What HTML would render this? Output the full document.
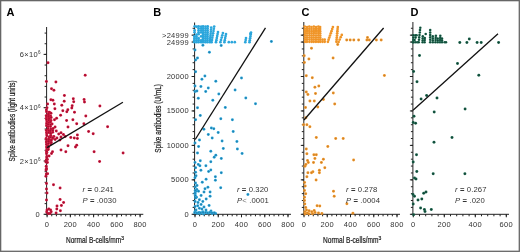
<!DOCTYPE html>
<html><head><meta charset="utf-8"><style>
html,body{margin:0;padding:0;background:#fff;}
svg{display:block;will-change:transform;}
text{font-family:"Liberation Sans",sans-serif;}
</style></head><body>
<svg width="520" height="252" viewBox="0 0 520 252">
<defs>
<radialGradient id="gA"><stop offset="0" stop-color="#9a0c2e"/><stop offset="0.55" stop-color="#b81236"/><stop offset="1" stop-color="#d21c40"/></radialGradient>
<radialGradient id="gB"><stop offset="0" stop-color="#1d78a2"/><stop offset="0.55" stop-color="#2592c4"/><stop offset="1" stop-color="#32acdf"/></radialGradient>
<radialGradient id="gC"><stop offset="0" stop-color="#c07e30"/><stop offset="0.55" stop-color="#e38d28"/><stop offset="1" stop-color="#f59c2c"/></radialGradient>
<radialGradient id="gD"><stop offset="0" stop-color="#0f3f31"/><stop offset="0.55" stop-color="#155340"/><stop offset="1" stop-color="#1e6a50"/></radialGradient>
</defs>
<rect x="0" y="0" width="520" height="252" fill="#fff"/>
<g stroke="#222" stroke-width="1" fill="none">
<line x1="46.6" y1="27" x2="46.6" y2="214.3"/>
<line x1="46.6" y1="214.3" x2="143.3" y2="214.3"/>
<line x1="44.6" y1="214.30" x2="46.6" y2="214.30"/>
<line x1="44.6" y1="203.64" x2="46.6" y2="203.64"/>
<line x1="44.6" y1="192.98" x2="46.6" y2="192.98"/>
<line x1="44.6" y1="182.32" x2="46.6" y2="182.32"/>
<line x1="44.6" y1="171.66" x2="46.6" y2="171.66"/>
<line x1="44.6" y1="161.00" x2="46.6" y2="161.00"/>
<line x1="44.6" y1="150.34" x2="46.6" y2="150.34"/>
<line x1="44.6" y1="139.68" x2="46.6" y2="139.68"/>
<line x1="44.6" y1="129.02" x2="46.6" y2="129.02"/>
<line x1="44.6" y1="118.36" x2="46.6" y2="118.36"/>
<line x1="44.6" y1="107.70" x2="46.6" y2="107.70"/>
<line x1="44.6" y1="97.04" x2="46.6" y2="97.04"/>
<line x1="44.6" y1="86.38" x2="46.6" y2="86.38"/>
<line x1="44.6" y1="75.72" x2="46.6" y2="75.72"/>
<line x1="44.6" y1="65.06" x2="46.6" y2="65.06"/>
<line x1="44.6" y1="54.40" x2="46.6" y2="54.40"/>
<line x1="44.6" y1="43.74" x2="46.6" y2="43.74"/>
<line x1="44.6" y1="33.08" x2="46.6" y2="33.08"/>
<line x1="43.6" y1="214.30" x2="46.6" y2="214.30"/>
<line x1="43.6" y1="161.00" x2="46.6" y2="161.00"/>
<line x1="43.6" y1="107.70" x2="46.6" y2="107.70"/>
<line x1="43.6" y1="54.40" x2="46.6" y2="54.40"/>
<line x1="47.10" y1="214.3" x2="47.10" y2="216.3"/>
<line x1="51.75" y1="214.3" x2="51.75" y2="216.3"/>
<line x1="56.40" y1="214.3" x2="56.40" y2="216.3"/>
<line x1="61.05" y1="214.3" x2="61.05" y2="216.3"/>
<line x1="65.70" y1="214.3" x2="65.70" y2="216.3"/>
<line x1="70.35" y1="214.3" x2="70.35" y2="216.3"/>
<line x1="75.00" y1="214.3" x2="75.00" y2="216.3"/>
<line x1="79.65" y1="214.3" x2="79.65" y2="216.3"/>
<line x1="84.30" y1="214.3" x2="84.30" y2="216.3"/>
<line x1="88.95" y1="214.3" x2="88.95" y2="216.3"/>
<line x1="93.60" y1="214.3" x2="93.60" y2="216.3"/>
<line x1="98.25" y1="214.3" x2="98.25" y2="216.3"/>
<line x1="102.90" y1="214.3" x2="102.90" y2="216.3"/>
<line x1="107.55" y1="214.3" x2="107.55" y2="216.3"/>
<line x1="112.20" y1="214.3" x2="112.20" y2="216.3"/>
<line x1="116.85" y1="214.3" x2="116.85" y2="216.3"/>
<line x1="121.50" y1="214.3" x2="121.50" y2="216.3"/>
<line x1="126.15" y1="214.3" x2="126.15" y2="216.3"/>
<line x1="130.80" y1="214.3" x2="130.80" y2="216.3"/>
<line x1="135.45" y1="214.3" x2="135.45" y2="216.3"/>
<line x1="140.10" y1="214.3" x2="140.10" y2="216.3"/>
<line x1="47.10" y1="214.3" x2="47.10" y2="217.3"/>
<line x1="70.35" y1="214.3" x2="70.35" y2="217.3"/>
<line x1="93.60" y1="214.3" x2="93.60" y2="217.3"/>
<line x1="116.85" y1="214.3" x2="116.85" y2="217.3"/>
<line x1="140.10" y1="214.3" x2="140.10" y2="217.3"/>
<line x1="194.6" y1="22.5" x2="194.6" y2="214.3"/>
<line x1="194.6" y1="214.3" x2="291" y2="214.3"/>
<line x1="192.6" y1="214.30" x2="194.6" y2="214.30"/>
<line x1="192.6" y1="207.41" x2="194.6" y2="207.41"/>
<line x1="192.6" y1="200.52" x2="194.6" y2="200.52"/>
<line x1="192.6" y1="193.63" x2="194.6" y2="193.63"/>
<line x1="192.6" y1="186.74" x2="194.6" y2="186.74"/>
<line x1="192.6" y1="179.85" x2="194.6" y2="179.85"/>
<line x1="192.6" y1="172.96" x2="194.6" y2="172.96"/>
<line x1="192.6" y1="166.07" x2="194.6" y2="166.07"/>
<line x1="192.6" y1="159.18" x2="194.6" y2="159.18"/>
<line x1="192.6" y1="152.29" x2="194.6" y2="152.29"/>
<line x1="192.6" y1="145.40" x2="194.6" y2="145.40"/>
<line x1="192.6" y1="138.51" x2="194.6" y2="138.51"/>
<line x1="192.6" y1="131.62" x2="194.6" y2="131.62"/>
<line x1="192.6" y1="124.73" x2="194.6" y2="124.73"/>
<line x1="192.6" y1="117.84" x2="194.6" y2="117.84"/>
<line x1="192.6" y1="110.95" x2="194.6" y2="110.95"/>
<line x1="192.6" y1="104.06" x2="194.6" y2="104.06"/>
<line x1="192.6" y1="97.17" x2="194.6" y2="97.17"/>
<line x1="192.6" y1="90.28" x2="194.6" y2="90.28"/>
<line x1="192.6" y1="83.39" x2="194.6" y2="83.39"/>
<line x1="192.6" y1="76.50" x2="194.6" y2="76.50"/>
<line x1="192.6" y1="69.61" x2="194.6" y2="69.61"/>
<line x1="192.6" y1="62.72" x2="194.6" y2="62.72"/>
<line x1="192.6" y1="55.83" x2="194.6" y2="55.83"/>
<line x1="192.6" y1="48.94" x2="194.6" y2="48.94"/>
<line x1="192.6" y1="42.05" x2="194.6" y2="42.05"/>
<line x1="192.6" y1="35.16" x2="194.6" y2="35.16"/>
<line x1="192.6" y1="28.27" x2="194.6" y2="28.27"/>
<line x1="191.6" y1="214.30" x2="194.6" y2="214.30"/>
<line x1="191.6" y1="179.85" x2="194.6" y2="179.85"/>
<line x1="191.6" y1="145.40" x2="194.6" y2="145.40"/>
<line x1="191.6" y1="110.95" x2="194.6" y2="110.95"/>
<line x1="191.6" y1="76.50" x2="194.6" y2="76.50"/>
<line x1="191.6" y1="42.05" x2="194.6" y2="42.05"/>
<line x1="191.6" y1="35.16" x2="194.6" y2="35.16"/>
<line x1="195.00" y1="214.3" x2="195.00" y2="216.3"/>
<line x1="199.65" y1="214.3" x2="199.65" y2="216.3"/>
<line x1="204.30" y1="214.3" x2="204.30" y2="216.3"/>
<line x1="208.95" y1="214.3" x2="208.95" y2="216.3"/>
<line x1="213.60" y1="214.3" x2="213.60" y2="216.3"/>
<line x1="218.25" y1="214.3" x2="218.25" y2="216.3"/>
<line x1="222.90" y1="214.3" x2="222.90" y2="216.3"/>
<line x1="227.55" y1="214.3" x2="227.55" y2="216.3"/>
<line x1="232.20" y1="214.3" x2="232.20" y2="216.3"/>
<line x1="236.85" y1="214.3" x2="236.85" y2="216.3"/>
<line x1="241.50" y1="214.3" x2="241.50" y2="216.3"/>
<line x1="246.15" y1="214.3" x2="246.15" y2="216.3"/>
<line x1="250.80" y1="214.3" x2="250.80" y2="216.3"/>
<line x1="255.45" y1="214.3" x2="255.45" y2="216.3"/>
<line x1="260.10" y1="214.3" x2="260.10" y2="216.3"/>
<line x1="264.75" y1="214.3" x2="264.75" y2="216.3"/>
<line x1="269.40" y1="214.3" x2="269.40" y2="216.3"/>
<line x1="274.05" y1="214.3" x2="274.05" y2="216.3"/>
<line x1="278.70" y1="214.3" x2="278.70" y2="216.3"/>
<line x1="283.35" y1="214.3" x2="283.35" y2="216.3"/>
<line x1="288.00" y1="214.3" x2="288.00" y2="216.3"/>
<line x1="195.00" y1="214.3" x2="195.00" y2="217.3"/>
<line x1="218.25" y1="214.3" x2="218.25" y2="217.3"/>
<line x1="241.50" y1="214.3" x2="241.50" y2="217.3"/>
<line x1="264.75" y1="214.3" x2="264.75" y2="217.3"/>
<line x1="288.00" y1="214.3" x2="288.00" y2="217.3"/>
<line x1="303.8" y1="22" x2="303.8" y2="214.3"/>
<line x1="303.8" y1="214.3" x2="400" y2="214.3"/>
<line x1="301.8" y1="214.30" x2="303.8" y2="214.30"/>
<line x1="301.8" y1="207.41" x2="303.8" y2="207.41"/>
<line x1="301.8" y1="200.52" x2="303.8" y2="200.52"/>
<line x1="301.8" y1="193.63" x2="303.8" y2="193.63"/>
<line x1="301.8" y1="186.74" x2="303.8" y2="186.74"/>
<line x1="301.8" y1="179.85" x2="303.8" y2="179.85"/>
<line x1="301.8" y1="172.96" x2="303.8" y2="172.96"/>
<line x1="301.8" y1="166.07" x2="303.8" y2="166.07"/>
<line x1="301.8" y1="159.18" x2="303.8" y2="159.18"/>
<line x1="301.8" y1="152.29" x2="303.8" y2="152.29"/>
<line x1="301.8" y1="145.40" x2="303.8" y2="145.40"/>
<line x1="301.8" y1="138.51" x2="303.8" y2="138.51"/>
<line x1="301.8" y1="131.62" x2="303.8" y2="131.62"/>
<line x1="301.8" y1="124.73" x2="303.8" y2="124.73"/>
<line x1="301.8" y1="117.84" x2="303.8" y2="117.84"/>
<line x1="301.8" y1="110.95" x2="303.8" y2="110.95"/>
<line x1="301.8" y1="104.06" x2="303.8" y2="104.06"/>
<line x1="301.8" y1="97.17" x2="303.8" y2="97.17"/>
<line x1="301.8" y1="90.28" x2="303.8" y2="90.28"/>
<line x1="301.8" y1="83.39" x2="303.8" y2="83.39"/>
<line x1="301.8" y1="76.50" x2="303.8" y2="76.50"/>
<line x1="301.8" y1="69.61" x2="303.8" y2="69.61"/>
<line x1="301.8" y1="62.72" x2="303.8" y2="62.72"/>
<line x1="301.8" y1="55.83" x2="303.8" y2="55.83"/>
<line x1="301.8" y1="48.94" x2="303.8" y2="48.94"/>
<line x1="301.8" y1="42.05" x2="303.8" y2="42.05"/>
<line x1="301.8" y1="35.16" x2="303.8" y2="35.16"/>
<line x1="301.8" y1="28.27" x2="303.8" y2="28.27"/>
<line x1="300.8" y1="214.30" x2="303.8" y2="214.30"/>
<line x1="300.8" y1="179.85" x2="303.8" y2="179.85"/>
<line x1="300.8" y1="145.40" x2="303.8" y2="145.40"/>
<line x1="300.8" y1="110.95" x2="303.8" y2="110.95"/>
<line x1="300.8" y1="76.50" x2="303.8" y2="76.50"/>
<line x1="300.8" y1="42.05" x2="303.8" y2="42.05"/>
<line x1="300.8" y1="35.16" x2="303.8" y2="35.16"/>
<line x1="304.00" y1="214.3" x2="304.00" y2="216.3"/>
<line x1="308.65" y1="214.3" x2="308.65" y2="216.3"/>
<line x1="313.30" y1="214.3" x2="313.30" y2="216.3"/>
<line x1="317.95" y1="214.3" x2="317.95" y2="216.3"/>
<line x1="322.60" y1="214.3" x2="322.60" y2="216.3"/>
<line x1="327.25" y1="214.3" x2="327.25" y2="216.3"/>
<line x1="331.90" y1="214.3" x2="331.90" y2="216.3"/>
<line x1="336.55" y1="214.3" x2="336.55" y2="216.3"/>
<line x1="341.20" y1="214.3" x2="341.20" y2="216.3"/>
<line x1="345.85" y1="214.3" x2="345.85" y2="216.3"/>
<line x1="350.50" y1="214.3" x2="350.50" y2="216.3"/>
<line x1="355.15" y1="214.3" x2="355.15" y2="216.3"/>
<line x1="359.80" y1="214.3" x2="359.80" y2="216.3"/>
<line x1="364.45" y1="214.3" x2="364.45" y2="216.3"/>
<line x1="369.10" y1="214.3" x2="369.10" y2="216.3"/>
<line x1="373.75" y1="214.3" x2="373.75" y2="216.3"/>
<line x1="378.40" y1="214.3" x2="378.40" y2="216.3"/>
<line x1="383.05" y1="214.3" x2="383.05" y2="216.3"/>
<line x1="387.70" y1="214.3" x2="387.70" y2="216.3"/>
<line x1="392.35" y1="214.3" x2="392.35" y2="216.3"/>
<line x1="397.00" y1="214.3" x2="397.00" y2="216.3"/>
<line x1="304.00" y1="214.3" x2="304.00" y2="217.3"/>
<line x1="327.25" y1="214.3" x2="327.25" y2="217.3"/>
<line x1="350.50" y1="214.3" x2="350.50" y2="217.3"/>
<line x1="373.75" y1="214.3" x2="373.75" y2="217.3"/>
<line x1="397.00" y1="214.3" x2="397.00" y2="217.3"/>
<line x1="412.9" y1="22" x2="412.9" y2="214.3"/>
<line x1="412.9" y1="214.3" x2="509" y2="214.3"/>
<line x1="410.9" y1="214.30" x2="412.9" y2="214.30"/>
<line x1="410.9" y1="207.41" x2="412.9" y2="207.41"/>
<line x1="410.9" y1="200.52" x2="412.9" y2="200.52"/>
<line x1="410.9" y1="193.63" x2="412.9" y2="193.63"/>
<line x1="410.9" y1="186.74" x2="412.9" y2="186.74"/>
<line x1="410.9" y1="179.85" x2="412.9" y2="179.85"/>
<line x1="410.9" y1="172.96" x2="412.9" y2="172.96"/>
<line x1="410.9" y1="166.07" x2="412.9" y2="166.07"/>
<line x1="410.9" y1="159.18" x2="412.9" y2="159.18"/>
<line x1="410.9" y1="152.29" x2="412.9" y2="152.29"/>
<line x1="410.9" y1="145.40" x2="412.9" y2="145.40"/>
<line x1="410.9" y1="138.51" x2="412.9" y2="138.51"/>
<line x1="410.9" y1="131.62" x2="412.9" y2="131.62"/>
<line x1="410.9" y1="124.73" x2="412.9" y2="124.73"/>
<line x1="410.9" y1="117.84" x2="412.9" y2="117.84"/>
<line x1="410.9" y1="110.95" x2="412.9" y2="110.95"/>
<line x1="410.9" y1="104.06" x2="412.9" y2="104.06"/>
<line x1="410.9" y1="97.17" x2="412.9" y2="97.17"/>
<line x1="410.9" y1="90.28" x2="412.9" y2="90.28"/>
<line x1="410.9" y1="83.39" x2="412.9" y2="83.39"/>
<line x1="410.9" y1="76.50" x2="412.9" y2="76.50"/>
<line x1="410.9" y1="69.61" x2="412.9" y2="69.61"/>
<line x1="410.9" y1="62.72" x2="412.9" y2="62.72"/>
<line x1="410.9" y1="55.83" x2="412.9" y2="55.83"/>
<line x1="410.9" y1="48.94" x2="412.9" y2="48.94"/>
<line x1="410.9" y1="42.05" x2="412.9" y2="42.05"/>
<line x1="410.9" y1="35.16" x2="412.9" y2="35.16"/>
<line x1="410.9" y1="28.27" x2="412.9" y2="28.27"/>
<line x1="409.9" y1="214.30" x2="412.9" y2="214.30"/>
<line x1="409.9" y1="179.85" x2="412.9" y2="179.85"/>
<line x1="409.9" y1="145.40" x2="412.9" y2="145.40"/>
<line x1="409.9" y1="110.95" x2="412.9" y2="110.95"/>
<line x1="409.9" y1="76.50" x2="412.9" y2="76.50"/>
<line x1="409.9" y1="42.05" x2="412.9" y2="42.05"/>
<line x1="409.9" y1="35.16" x2="412.9" y2="35.16"/>
<line x1="413.30" y1="214.3" x2="413.30" y2="216.3"/>
<line x1="419.50" y1="214.3" x2="419.50" y2="216.3"/>
<line x1="425.70" y1="214.3" x2="425.70" y2="216.3"/>
<line x1="431.90" y1="214.3" x2="431.90" y2="216.3"/>
<line x1="438.10" y1="214.3" x2="438.10" y2="216.3"/>
<line x1="444.30" y1="214.3" x2="444.30" y2="216.3"/>
<line x1="450.50" y1="214.3" x2="450.50" y2="216.3"/>
<line x1="456.70" y1="214.3" x2="456.70" y2="216.3"/>
<line x1="462.90" y1="214.3" x2="462.90" y2="216.3"/>
<line x1="469.10" y1="214.3" x2="469.10" y2="216.3"/>
<line x1="475.30" y1="214.3" x2="475.30" y2="216.3"/>
<line x1="481.50" y1="214.3" x2="481.50" y2="216.3"/>
<line x1="487.70" y1="214.3" x2="487.70" y2="216.3"/>
<line x1="493.90" y1="214.3" x2="493.90" y2="216.3"/>
<line x1="500.10" y1="214.3" x2="500.10" y2="216.3"/>
<line x1="506.30" y1="214.3" x2="506.30" y2="216.3"/>
<line x1="413.30" y1="214.3" x2="413.30" y2="217.3"/>
<line x1="444.30" y1="214.3" x2="444.30" y2="217.3"/>
<line x1="475.30" y1="214.3" x2="475.30" y2="217.3"/>
<line x1="506.30" y1="214.3" x2="506.30" y2="217.3"/>
</g>
<g>
<circle cx="48.0" cy="62.7" r="1.48" fill="url(#gA)"/>
<circle cx="85.2" cy="75.2" r="1.48" fill="url(#gA)"/>
<circle cx="46.4" cy="81.5" r="1.48" fill="url(#gA)"/>
<circle cx="55.9" cy="81.9" r="1.48" fill="url(#gA)"/>
<circle cx="51.5" cy="88.8" r="1.48" fill="url(#gA)"/>
<circle cx="53.9" cy="90.2" r="1.48" fill="url(#gA)"/>
<circle cx="64.4" cy="95.4" r="1.48" fill="url(#gA)"/>
<circle cx="50.9" cy="99.8" r="1.48" fill="url(#gA)"/>
<circle cx="52.9" cy="100.2" r="1.48" fill="url(#gA)"/>
<circle cx="64.2" cy="101.2" r="1.48" fill="url(#gA)"/>
<circle cx="73.3" cy="98.8" r="1.48" fill="url(#gA)"/>
<circle cx="73.7" cy="101.7" r="1.48" fill="url(#gA)"/>
<circle cx="84.1" cy="99.6" r="1.48" fill="url(#gA)"/>
<circle cx="84.5" cy="102.1" r="1.48" fill="url(#gA)"/>
<circle cx="47.6" cy="104.1" r="1.48" fill="url(#gA)"/>
<circle cx="54.3" cy="104.1" r="1.48" fill="url(#gA)"/>
<circle cx="61.8" cy="105.3" r="1.48" fill="url(#gA)"/>
<circle cx="72.2" cy="105.7" r="1.48" fill="url(#gA)"/>
<circle cx="71.8" cy="107.9" r="1.48" fill="url(#gA)"/>
<circle cx="47.0" cy="107.7" r="1.48" fill="url(#gA)"/>
<circle cx="54.9" cy="108.7" r="1.48" fill="url(#gA)"/>
<circle cx="62.8" cy="110.7" r="1.48" fill="url(#gA)"/>
<circle cx="66.8" cy="111.7" r="1.48" fill="url(#gA)"/>
<circle cx="67.8" cy="109.7" r="1.48" fill="url(#gA)"/>
<circle cx="49.9" cy="112.7" r="1.48" fill="url(#gA)"/>
<circle cx="74.5" cy="112.3" r="1.48" fill="url(#gA)"/>
<circle cx="48.0" cy="114.6" r="1.48" fill="url(#gA)"/>
<circle cx="60.6" cy="115.2" r="1.48" fill="url(#gA)"/>
<circle cx="47.0" cy="116.6" r="1.48" fill="url(#gA)"/>
<circle cx="49.9" cy="117.2" r="1.48" fill="url(#gA)"/>
<circle cx="85.8" cy="116.0" r="1.48" fill="url(#gA)"/>
<circle cx="56.6" cy="118.2" r="1.48" fill="url(#gA)"/>
<circle cx="49.0" cy="119.2" r="1.48" fill="url(#gA)"/>
<circle cx="99.9" cy="105.9" r="1.48" fill="url(#gA)"/>
<circle cx="107.6" cy="126.7" r="1.48" fill="url(#gA)"/>
<circle cx="93.2" cy="133.8" r="1.48" fill="url(#gA)"/>
<circle cx="66.6" cy="120.6" r="1.48" fill="url(#gA)"/>
<circle cx="54.5" cy="119.7" r="1.48" fill="url(#gA)"/>
<circle cx="55.1" cy="126.9" r="1.48" fill="url(#gA)"/>
<circle cx="68.0" cy="127.0" r="1.48" fill="url(#gA)"/>
<circle cx="52.1" cy="123.9" r="1.48" fill="url(#gA)"/>
<circle cx="56.3" cy="131.0" r="1.48" fill="url(#gA)"/>
<circle cx="52.7" cy="132.2" r="1.48" fill="url(#gA)"/>
<circle cx="58.7" cy="134.0" r="1.48" fill="url(#gA)"/>
<circle cx="61.0" cy="132.8" r="1.48" fill="url(#gA)"/>
<circle cx="63.4" cy="134.6" r="1.48" fill="url(#gA)"/>
<circle cx="50.9" cy="135.8" r="1.48" fill="url(#gA)"/>
<circle cx="53.9" cy="136.4" r="1.48" fill="url(#gA)"/>
<circle cx="56.9" cy="138.1" r="1.48" fill="url(#gA)"/>
<circle cx="61.0" cy="137.0" r="1.48" fill="url(#gA)"/>
<circle cx="65.2" cy="136.4" r="1.48" fill="url(#gA)"/>
<circle cx="49.1" cy="139.4" r="1.48" fill="url(#gA)"/>
<circle cx="55.1" cy="139.4" r="1.48" fill="url(#gA)"/>
<circle cx="59.9" cy="140.0" r="1.48" fill="url(#gA)"/>
<circle cx="52.7" cy="138.6" r="1.48" fill="url(#gA)"/>
<circle cx="50.9" cy="144.0" r="1.48" fill="url(#gA)"/>
<circle cx="49.7" cy="141.6" r="1.48" fill="url(#gA)"/>
<circle cx="68.0" cy="145.7" r="1.48" fill="url(#gA)"/>
<circle cx="61.0" cy="149.9" r="1.48" fill="url(#gA)"/>
<circle cx="65.8" cy="151.7" r="1.48" fill="url(#gA)"/>
<circle cx="52.5" cy="151.7" r="1.48" fill="url(#gA)"/>
<circle cx="51.5" cy="153.5" r="1.48" fill="url(#gA)"/>
<circle cx="49.1" cy="155.9" r="1.48" fill="url(#gA)"/>
<circle cx="47.4" cy="159.4" r="1.48" fill="url(#gA)"/>
<circle cx="47.4" cy="162.4" r="1.48" fill="url(#gA)"/>
<circle cx="46.8" cy="149.9" r="1.48" fill="url(#gA)"/>
<circle cx="46.8" cy="152.3" r="1.48" fill="url(#gA)"/>
<circle cx="46.5" cy="168.9" r="1.48" fill="url(#gA)"/>
<circle cx="47.6" cy="173.7" r="1.48" fill="url(#gA)"/>
<circle cx="46.5" cy="183.6" r="1.48" fill="url(#gA)"/>
<circle cx="53.5" cy="184.7" r="1.48" fill="url(#gA)"/>
<circle cx="60.1" cy="187.9" r="1.48" fill="url(#gA)"/>
<circle cx="46.5" cy="189.0" r="1.48" fill="url(#gA)"/>
<circle cx="47.0" cy="193.0" r="1.48" fill="url(#gA)"/>
<circle cx="46.5" cy="199.9" r="1.48" fill="url(#gA)"/>
<circle cx="60.1" cy="199.5" r="1.48" fill="url(#gA)"/>
<circle cx="63.6" cy="202.6" r="1.48" fill="url(#gA)"/>
<circle cx="61.4" cy="205.4" r="1.48" fill="url(#gA)"/>
<circle cx="57.0" cy="206.0" r="1.48" fill="url(#gA)"/>
<circle cx="56.8" cy="208.9" r="1.48" fill="url(#gA)"/>
<circle cx="60.4" cy="210.7" r="1.48" fill="url(#gA)"/>
<circle cx="56.1" cy="212.9" r="1.48" fill="url(#gA)"/>
<circle cx="72.9" cy="119.7" r="1.48" fill="url(#gA)"/>
<circle cx="76.7" cy="123.8" r="1.48" fill="url(#gA)"/>
<circle cx="83.9" cy="123.8" r="1.48" fill="url(#gA)"/>
<circle cx="88.6" cy="131.4" r="1.48" fill="url(#gA)"/>
<circle cx="77.4" cy="135.0" r="1.48" fill="url(#gA)"/>
<circle cx="70.8" cy="137.4" r="1.48" fill="url(#gA)"/>
<circle cx="74.3" cy="138.1" r="1.48" fill="url(#gA)"/>
<circle cx="77.4" cy="138.6" r="1.48" fill="url(#gA)"/>
<circle cx="76.7" cy="145.2" r="1.48" fill="url(#gA)"/>
<circle cx="75.5" cy="146.9" r="1.48" fill="url(#gA)"/>
<circle cx="94.1" cy="151.7" r="1.48" fill="url(#gA)"/>
<circle cx="123.1" cy="152.9" r="1.48" fill="url(#gA)"/>
<circle cx="99.6" cy="161.6" r="1.48" fill="url(#gA)"/>
<circle cx="51.2" cy="211.8" r="1.48" fill="url(#gA)"/>
<circle cx="50.0" cy="213.4" r="1.48" fill="url(#gA)"/>
<circle cx="48.0" cy="213.5" r="1.48" fill="url(#gA)"/>
<circle cx="46.7" cy="212.0" r="1.48" fill="url(#gA)"/>
<circle cx="47.0" cy="210.1" r="1.48" fill="url(#gA)"/>
<circle cx="48.8" cy="209.1" r="1.48" fill="url(#gA)"/>
<circle cx="50.6" cy="209.9" r="1.48" fill="url(#gA)"/>
<circle cx="46.4" cy="109.9" r="1.48" fill="url(#gA)"/>
<circle cx="46.5" cy="111.7" r="1.48" fill="url(#gA)"/>
<circle cx="46.2" cy="115.8" r="1.48" fill="url(#gA)"/>
<circle cx="46.4" cy="118.3" r="1.48" fill="url(#gA)"/>
<circle cx="46.5" cy="119.7" r="1.48" fill="url(#gA)"/>
<circle cx="46.8" cy="122.0" r="1.48" fill="url(#gA)"/>
<circle cx="46.6" cy="123.7" r="1.48" fill="url(#gA)"/>
<circle cx="46.5" cy="125.8" r="1.48" fill="url(#gA)"/>
<circle cx="46.4" cy="130.2" r="1.48" fill="url(#gA)"/>
<circle cx="46.6" cy="132.3" r="1.48" fill="url(#gA)"/>
<circle cx="46.7" cy="134.0" r="1.48" fill="url(#gA)"/>
<circle cx="46.8" cy="135.7" r="1.48" fill="url(#gA)"/>
<circle cx="46.1" cy="138.4" r="1.48" fill="url(#gA)"/>
<circle cx="46.5" cy="139.8" r="1.48" fill="url(#gA)"/>
<circle cx="46.3" cy="141.9" r="1.48" fill="url(#gA)"/>
<circle cx="46.5" cy="144.3" r="1.48" fill="url(#gA)"/>
<circle cx="46.8" cy="146.3" r="1.48" fill="url(#gA)"/>
<circle cx="46.6" cy="147.7" r="1.48" fill="url(#gA)"/>
<circle cx="46.9" cy="150.3" r="1.48" fill="url(#gA)"/>
<circle cx="46.6" cy="151.8" r="1.48" fill="url(#gA)"/>
<circle cx="46.5" cy="153.8" r="1.48" fill="url(#gA)"/>
<circle cx="46.8" cy="156.4" r="1.48" fill="url(#gA)"/>
<circle cx="46.7" cy="157.9" r="1.48" fill="url(#gA)"/>
<circle cx="46.2" cy="160.2" r="1.48" fill="url(#gA)"/>
<circle cx="45.9" cy="162.1" r="1.48" fill="url(#gA)"/>
<circle cx="46.2" cy="166.3" r="1.48" fill="url(#gA)"/>
<circle cx="46.4" cy="168.4" r="1.48" fill="url(#gA)"/>
<circle cx="46.0" cy="170.1" r="1.48" fill="url(#gA)"/>
<circle cx="46.3" cy="174.1" r="1.48" fill="url(#gA)"/>
<circle cx="45.9" cy="176.3" r="1.48" fill="url(#gA)"/>
<circle cx="49.1" cy="112.3" r="1.48" fill="url(#gA)"/>
<circle cx="48.6" cy="114.1" r="1.48" fill="url(#gA)"/>
<circle cx="48.7" cy="116.2" r="1.48" fill="url(#gA)"/>
<circle cx="49.0" cy="118.3" r="1.48" fill="url(#gA)"/>
<circle cx="48.8" cy="120.2" r="1.48" fill="url(#gA)"/>
<circle cx="49.1" cy="122.5" r="1.48" fill="url(#gA)"/>
<circle cx="48.1" cy="124.5" r="1.48" fill="url(#gA)"/>
<circle cx="48.1" cy="126.8" r="1.48" fill="url(#gA)"/>
<circle cx="48.2" cy="128.9" r="1.48" fill="url(#gA)"/>
<circle cx="48.8" cy="130.8" r="1.48" fill="url(#gA)"/>
<circle cx="48.8" cy="132.6" r="1.48" fill="url(#gA)"/>
<circle cx="49.1" cy="137.0" r="1.48" fill="url(#gA)"/>
<circle cx="48.7" cy="139.2" r="1.48" fill="url(#gA)"/>
<circle cx="48.4" cy="141.3" r="1.48" fill="url(#gA)"/>
<circle cx="48.4" cy="143.4" r="1.48" fill="url(#gA)"/>
<circle cx="48.1" cy="145.7" r="1.48" fill="url(#gA)"/>
<circle cx="48.4" cy="147.5" r="1.48" fill="url(#gA)"/>
<circle cx="48.3" cy="149.5" r="1.48" fill="url(#gA)"/>
<circle cx="51.0" cy="113.2" r="1.48" fill="url(#gA)"/>
<circle cx="50.6" cy="116.0" r="1.48" fill="url(#gA)"/>
<circle cx="51.2" cy="117.6" r="1.48" fill="url(#gA)"/>
<circle cx="51.0" cy="120.4" r="1.48" fill="url(#gA)"/>
<circle cx="50.5" cy="122.0" r="1.48" fill="url(#gA)"/>
<circle cx="50.5" cy="124.7" r="1.48" fill="url(#gA)"/>
<circle cx="50.5" cy="126.5" r="1.48" fill="url(#gA)"/>
<circle cx="50.9" cy="129.1" r="1.48" fill="url(#gA)"/>
<circle cx="50.4" cy="130.9" r="1.48" fill="url(#gA)"/>
<circle cx="50.6" cy="133.2" r="1.48" fill="url(#gA)"/>
<circle cx="50.7" cy="135.4" r="1.48" fill="url(#gA)"/>
<circle cx="50.5" cy="137.3" r="1.48" fill="url(#gA)"/>
<circle cx="51.2" cy="140.3" r="1.48" fill="url(#gA)"/>
<circle cx="51.3" cy="142.4" r="1.48" fill="url(#gA)"/>
<circle cx="53.2" cy="128.4" r="1.48" fill="url(#gA)"/>
<circle cx="52.7" cy="130.5" r="1.48" fill="url(#gA)"/>
<circle cx="52.7" cy="137.7" r="1.48" fill="url(#gA)"/>
<circle cx="202.9" cy="45.3" r="1.48" fill="url(#gB)"/>
<circle cx="221.2" cy="45.6" r="1.48" fill="url(#gB)"/>
<circle cx="209.4" cy="52.3" r="1.48" fill="url(#gB)"/>
<circle cx="195.0" cy="50.0" r="1.48" fill="url(#gB)"/>
<circle cx="197.5" cy="57.9" r="1.48" fill="url(#gB)"/>
<circle cx="195.6" cy="59.9" r="1.48" fill="url(#gB)"/>
<circle cx="195.6" cy="71.8" r="1.48" fill="url(#gB)"/>
<circle cx="204.9" cy="76.1" r="1.48" fill="url(#gB)"/>
<circle cx="201.9" cy="79.3" r="1.48" fill="url(#gB)"/>
<circle cx="215.8" cy="81.3" r="1.48" fill="url(#gB)"/>
<circle cx="200.9" cy="86.6" r="1.48" fill="url(#gB)"/>
<circle cx="208.3" cy="88.0" r="1.48" fill="url(#gB)"/>
<circle cx="195.0" cy="86.0" r="1.48" fill="url(#gB)"/>
<circle cx="205.7" cy="91.6" r="1.48" fill="url(#gB)"/>
<circle cx="241.5" cy="77.9" r="1.48" fill="url(#gB)"/>
<circle cx="235.1" cy="89.9" r="1.48" fill="url(#gB)"/>
<circle cx="245.8" cy="97.9" r="1.48" fill="url(#gB)"/>
<circle cx="255.5" cy="103.8" r="1.48" fill="url(#gB)"/>
<circle cx="232.4" cy="119.8" r="1.48" fill="url(#gB)"/>
<circle cx="233.2" cy="131.6" r="1.48" fill="url(#gB)"/>
<circle cx="236.9" cy="141.6" r="1.48" fill="url(#gB)"/>
<circle cx="237.4" cy="149.0" r="1.48" fill="url(#gB)"/>
<circle cx="242.1" cy="153.5" r="1.48" fill="url(#gB)"/>
<circle cx="195.0" cy="91.6" r="1.48" fill="url(#gB)"/>
<circle cx="196.9" cy="91.0" r="1.48" fill="url(#gB)"/>
<circle cx="218.8" cy="94.0" r="1.48" fill="url(#gB)"/>
<circle cx="198.3" cy="98.3" r="1.48" fill="url(#gB)"/>
<circle cx="212.8" cy="100.3" r="1.48" fill="url(#gB)"/>
<circle cx="197.5" cy="107.8" r="1.48" fill="url(#gB)"/>
<circle cx="225.3" cy="107.4" r="1.48" fill="url(#gB)"/>
<circle cx="200.3" cy="115.4" r="1.48" fill="url(#gB)"/>
<circle cx="220.8" cy="118.8" r="1.48" fill="url(#gB)"/>
<circle cx="195.6" cy="119.7" r="1.48" fill="url(#gB)"/>
<circle cx="203.9" cy="129.3" r="1.48" fill="url(#gB)"/>
<circle cx="211.4" cy="128.1" r="1.48" fill="url(#gB)"/>
<circle cx="213.8" cy="128.7" r="1.48" fill="url(#gB)"/>
<circle cx="218.2" cy="132.6" r="1.48" fill="url(#gB)"/>
<circle cx="208.3" cy="134.6" r="1.48" fill="url(#gB)"/>
<circle cx="212.2" cy="138.0" r="1.48" fill="url(#gB)"/>
<circle cx="199.5" cy="140.0" r="1.48" fill="url(#gB)"/>
<circle cx="222.1" cy="141.0" r="1.48" fill="url(#gB)"/>
<circle cx="195.0" cy="142.9" r="1.48" fill="url(#gB)"/>
<circle cx="198.6" cy="146.6" r="1.48" fill="url(#gB)"/>
<circle cx="223.3" cy="148.5" r="1.48" fill="url(#gB)"/>
<circle cx="210.8" cy="151.3" r="1.48" fill="url(#gB)"/>
<circle cx="197.5" cy="152.9" r="1.48" fill="url(#gB)"/>
<circle cx="215.8" cy="155.2" r="1.48" fill="url(#gB)"/>
<circle cx="214.2" cy="157.2" r="1.48" fill="url(#gB)"/>
<circle cx="221.3" cy="158.4" r="1.48" fill="url(#gB)"/>
<circle cx="200.3" cy="160.8" r="1.48" fill="url(#gB)"/>
<circle cx="210.8" cy="161.8" r="1.48" fill="url(#gB)"/>
<circle cx="195.0" cy="162.4" r="1.48" fill="url(#gB)"/>
<circle cx="198.3" cy="164.4" r="1.48" fill="url(#gB)"/>
<circle cx="199.9" cy="165.8" r="1.48" fill="url(#gB)"/>
<circle cx="205.9" cy="165.8" r="1.48" fill="url(#gB)"/>
<circle cx="195.6" cy="167.7" r="1.48" fill="url(#gB)"/>
<circle cx="210.8" cy="169.9" r="1.48" fill="url(#gB)"/>
<circle cx="208.6" cy="171.5" r="1.48" fill="url(#gB)"/>
<circle cx="200.9" cy="170.3" r="1.48" fill="url(#gB)"/>
<circle cx="195.6" cy="172.3" r="1.48" fill="url(#gB)"/>
<circle cx="221.3" cy="172.7" r="1.48" fill="url(#gB)"/>
<circle cx="196.0" cy="175.7" r="1.48" fill="url(#gB)"/>
<circle cx="195.0" cy="177.7" r="1.48" fill="url(#gB)"/>
<circle cx="215.4" cy="176.7" r="1.48" fill="url(#gB)"/>
<circle cx="206.1" cy="179.2" r="1.48" fill="url(#gB)"/>
<circle cx="215.4" cy="180.2" r="1.48" fill="url(#gB)"/>
<circle cx="202.3" cy="182.2" r="1.48" fill="url(#gB)"/>
<circle cx="220.7" cy="187.8" r="1.48" fill="url(#gB)"/>
<circle cx="207.9" cy="187.3" r="1.48" fill="url(#gB)"/>
<circle cx="205.0" cy="188.7" r="1.48" fill="url(#gB)"/>
<circle cx="196.8" cy="189.5" r="1.48" fill="url(#gB)"/>
<circle cx="196.0" cy="191.2" r="1.48" fill="url(#gB)"/>
<circle cx="198.5" cy="191.2" r="1.48" fill="url(#gB)"/>
<circle cx="204.0" cy="192.1" r="1.48" fill="url(#gB)"/>
<circle cx="210.1" cy="192.1" r="1.48" fill="url(#gB)"/>
<circle cx="195.1" cy="193.8" r="1.48" fill="url(#gB)"/>
<circle cx="201.1" cy="195.5" r="1.48" fill="url(#gB)"/>
<circle cx="210.1" cy="196.3" r="1.48" fill="url(#gB)"/>
<circle cx="196.5" cy="197.2" r="1.48" fill="url(#gB)"/>
<circle cx="206.2" cy="198.9" r="1.48" fill="url(#gB)"/>
<circle cx="199.4" cy="199.7" r="1.48" fill="url(#gB)"/>
<circle cx="202.8" cy="201.5" r="1.48" fill="url(#gB)"/>
<circle cx="195.1" cy="201.5" r="1.48" fill="url(#gB)"/>
<circle cx="209.1" cy="205.4" r="1.48" fill="url(#gB)"/>
<circle cx="201.1" cy="204.4" r="1.48" fill="url(#gB)"/>
<circle cx="197.7" cy="205.7" r="1.48" fill="url(#gB)"/>
<circle cx="195.1" cy="206.6" r="1.48" fill="url(#gB)"/>
<circle cx="199.4" cy="208.3" r="1.48" fill="url(#gB)"/>
<circle cx="201.9" cy="209.1" r="1.48" fill="url(#gB)"/>
<circle cx="196.0" cy="210.0" r="1.48" fill="url(#gB)"/>
<circle cx="195.1" cy="211.7" r="1.48" fill="url(#gB)"/>
<circle cx="202.8" cy="211.7" r="1.48" fill="url(#gB)"/>
<circle cx="206.2" cy="212.5" r="1.48" fill="url(#gB)"/>
<circle cx="208.8" cy="212.9" r="1.48" fill="url(#gB)"/>
<circle cx="212.2" cy="213.4" r="1.48" fill="url(#gB)"/>
<circle cx="215.6" cy="213.4" r="1.48" fill="url(#gB)"/>
<circle cx="197.6" cy="213.2" r="1.48" fill="url(#gB)"/>
<circle cx="200.2" cy="213.4" r="1.48" fill="url(#gB)"/>
<circle cx="247.9" cy="194.5" r="1.48" fill="url(#gB)"/>
<circle cx="250.6" cy="33.8" r="1.48" fill="url(#gB)"/>
<circle cx="271.4" cy="41.4" r="1.48" fill="url(#gB)"/>
<circle cx="195.5" cy="183.0" r="1.48" fill="url(#gB)"/>
<circle cx="197.0" cy="185.5" r="1.48" fill="url(#gB)"/>
<circle cx="195.3" cy="187.0" r="1.48" fill="url(#gB)"/>
<circle cx="198.0" cy="202.5" r="1.48" fill="url(#gB)"/>
<circle cx="204.0" cy="207.0" r="1.48" fill="url(#gB)"/>
<circle cx="203.5" cy="214.0" r="1.48" fill="url(#gB)"/>
<circle cx="206.0" cy="210.0" r="1.48" fill="url(#gB)"/>
<circle cx="211.0" cy="211.0" r="1.48" fill="url(#gB)"/>
<circle cx="194.7" cy="212.7" r="1.48" fill="url(#gB)"/>
<circle cx="197.0" cy="212.9" r="1.48" fill="url(#gB)"/>
<circle cx="199.1" cy="212.6" r="1.48" fill="url(#gB)"/>
<circle cx="200.8" cy="212.8" r="1.48" fill="url(#gB)"/>
<circle cx="203.1" cy="212.4" r="1.48" fill="url(#gB)"/>
<circle cx="205.6" cy="212.6" r="1.48" fill="url(#gB)"/>
<circle cx="207.6" cy="212.9" r="1.48" fill="url(#gB)"/>
<circle cx="210.0" cy="212.4" r="1.48" fill="url(#gB)"/>
<circle cx="212.0" cy="212.9" r="1.48" fill="url(#gB)"/>
<circle cx="214.3" cy="212.8" r="1.48" fill="url(#gB)"/>
<circle cx="195.2" cy="190.5" r="1.48" fill="url(#gB)"/>
<circle cx="195.0" cy="193.0" r="1.48" fill="url(#gB)"/>
<circle cx="195.3" cy="195.5" r="1.48" fill="url(#gB)"/>
<circle cx="195.6" cy="198.0" r="1.48" fill="url(#gB)"/>
<circle cx="337.7" cy="44.4" r="1.48" fill="url(#gC)"/>
<circle cx="311.5" cy="48.3" r="1.48" fill="url(#gC)"/>
<circle cx="304.2" cy="55.7" r="1.48" fill="url(#gC)"/>
<circle cx="308.9" cy="59.0" r="1.48" fill="url(#gC)"/>
<circle cx="333.1" cy="58.1" r="1.48" fill="url(#gC)"/>
<circle cx="304.4" cy="62.6" r="1.48" fill="url(#gC)"/>
<circle cx="306.3" cy="75.7" r="1.48" fill="url(#gC)"/>
<circle cx="312.3" cy="77.7" r="1.48" fill="url(#gC)"/>
<circle cx="314.9" cy="87.2" r="1.48" fill="url(#gC)"/>
<circle cx="318.8" cy="86.0" r="1.48" fill="url(#gC)"/>
<circle cx="384.4" cy="75.4" r="1.48" fill="url(#gC)"/>
<circle cx="306.3" cy="92.0" r="1.48" fill="url(#gC)"/>
<circle cx="307.9" cy="94.4" r="1.48" fill="url(#gC)"/>
<circle cx="315.5" cy="93.6" r="1.48" fill="url(#gC)"/>
<circle cx="333.3" cy="93.0" r="1.48" fill="url(#gC)"/>
<circle cx="309.9" cy="100.9" r="1.48" fill="url(#gC)"/>
<circle cx="314.3" cy="100.9" r="1.48" fill="url(#gC)"/>
<circle cx="323.4" cy="99.5" r="1.48" fill="url(#gC)"/>
<circle cx="334.7" cy="103.9" r="1.48" fill="url(#gC)"/>
<circle cx="305.5" cy="107.5" r="1.48" fill="url(#gC)"/>
<circle cx="317.8" cy="106.9" r="1.48" fill="url(#gC)"/>
<circle cx="305.9" cy="117.8" r="1.48" fill="url(#gC)"/>
<circle cx="303.6" cy="124.7" r="1.48" fill="url(#gC)"/>
<circle cx="306.9" cy="124.7" r="1.48" fill="url(#gC)"/>
<circle cx="309.9" cy="126.7" r="1.48" fill="url(#gC)"/>
<circle cx="316.3" cy="137.4" r="1.48" fill="url(#gC)"/>
<circle cx="335.7" cy="138.6" r="1.48" fill="url(#gC)"/>
<circle cx="343.2" cy="138.6" r="1.48" fill="url(#gC)"/>
<circle cx="327.8" cy="146.5" r="1.48" fill="url(#gC)"/>
<circle cx="306.3" cy="148.9" r="1.48" fill="url(#gC)"/>
<circle cx="306.9" cy="153.8" r="1.48" fill="url(#gC)"/>
<circle cx="313.9" cy="154.8" r="1.48" fill="url(#gC)"/>
<circle cx="316.3" cy="154.8" r="1.48" fill="url(#gC)"/>
<circle cx="314.9" cy="158.4" r="1.48" fill="url(#gC)"/>
<circle cx="323.4" cy="159.2" r="1.48" fill="url(#gC)"/>
<circle cx="307.5" cy="160.4" r="1.48" fill="url(#gC)"/>
<circle cx="308.3" cy="162.4" r="1.48" fill="url(#gC)"/>
<circle cx="313.5" cy="162.4" r="1.48" fill="url(#gC)"/>
<circle cx="321.4" cy="162.4" r="1.48" fill="url(#gC)"/>
<circle cx="305.9" cy="164.4" r="1.48" fill="url(#gC)"/>
<circle cx="304.9" cy="166.3" r="1.48" fill="url(#gC)"/>
<circle cx="324.8" cy="167.7" r="1.48" fill="url(#gC)"/>
<circle cx="319.4" cy="170.3" r="1.48" fill="url(#gC)"/>
<circle cx="312.9" cy="171.7" r="1.48" fill="url(#gC)"/>
<circle cx="311.5" cy="172.7" r="1.48" fill="url(#gC)"/>
<circle cx="307.9" cy="172.7" r="1.48" fill="url(#gC)"/>
<circle cx="319.4" cy="172.7" r="1.48" fill="url(#gC)"/>
<circle cx="306.9" cy="176.7" r="1.48" fill="url(#gC)"/>
<circle cx="316.1" cy="180.0" r="1.48" fill="url(#gC)"/>
<circle cx="304.6" cy="182.6" r="1.48" fill="url(#gC)"/>
<circle cx="305.2" cy="186.1" r="1.48" fill="url(#gC)"/>
<circle cx="304.5" cy="190.4" r="1.48" fill="url(#gC)"/>
<circle cx="305.7" cy="193.8" r="1.48" fill="url(#gC)"/>
<circle cx="333.5" cy="191.2" r="1.48" fill="url(#gC)"/>
<circle cx="334.2" cy="196.3" r="1.48" fill="url(#gC)"/>
<circle cx="304.5" cy="197.2" r="1.48" fill="url(#gC)"/>
<circle cx="304.5" cy="200.6" r="1.48" fill="url(#gC)"/>
<circle cx="304.8" cy="204.0" r="1.48" fill="url(#gC)"/>
<circle cx="317.1" cy="205.7" r="1.48" fill="url(#gC)"/>
<circle cx="319.8" cy="206.1" r="1.48" fill="url(#gC)"/>
<circle cx="305.7" cy="207.4" r="1.48" fill="url(#gC)"/>
<circle cx="306.5" cy="210.0" r="1.48" fill="url(#gC)"/>
<circle cx="309.1" cy="210.8" r="1.48" fill="url(#gC)"/>
<circle cx="314.2" cy="210.5" r="1.48" fill="url(#gC)"/>
<circle cx="311.7" cy="211.7" r="1.48" fill="url(#gC)"/>
<circle cx="315.1" cy="212.5" r="1.48" fill="url(#gC)"/>
<circle cx="318.5" cy="212.9" r="1.48" fill="url(#gC)"/>
<circle cx="321.9" cy="213.4" r="1.48" fill="url(#gC)"/>
<circle cx="304.8" cy="211.7" r="1.48" fill="url(#gC)"/>
<circle cx="307.4" cy="212.9" r="1.48" fill="url(#gC)"/>
<circle cx="353.6" cy="160.0" r="1.48" fill="url(#gC)"/>
<circle cx="346.9" cy="203.8" r="1.48" fill="url(#gC)"/>
<circle cx="352.9" cy="213.3" r="1.48" fill="url(#gC)"/>
<circle cx="305.0" cy="214.0" r="1.48" fill="url(#gC)"/>
<circle cx="309.0" cy="213.8" r="1.48" fill="url(#gC)"/>
<circle cx="312.5" cy="213.8" r="1.48" fill="url(#gC)"/>
<circle cx="346.7" cy="40.0" r="1.48" fill="url(#gC)"/>
<circle cx="350.2" cy="40.0" r="1.48" fill="url(#gC)"/>
<circle cx="353.8" cy="40.0" r="1.48" fill="url(#gC)"/>
<circle cx="358.6" cy="40.0" r="1.48" fill="url(#gC)"/>
<circle cx="366.9" cy="40.0" r="1.48" fill="url(#gC)"/>
<circle cx="367.5" cy="37.5" r="1.48" fill="url(#gC)"/>
<circle cx="369.3" cy="40.0" r="1.48" fill="url(#gC)"/>
<circle cx="376.4" cy="40.0" r="1.48" fill="url(#gC)"/>
<circle cx="381.2" cy="40.0" r="1.48" fill="url(#gC)"/>
<circle cx="459.8" cy="42.6" r="1.48" fill="url(#gD)"/>
<circle cx="466.9" cy="42.6" r="1.48" fill="url(#gD)"/>
<circle cx="469.3" cy="39.0" r="1.48" fill="url(#gD)"/>
<circle cx="477.1" cy="42.6" r="1.48" fill="url(#gD)"/>
<circle cx="481.2" cy="42.6" r="1.48" fill="url(#gD)"/>
<circle cx="498.6" cy="42.6" r="1.48" fill="url(#gD)"/>
<circle cx="457.5" cy="63.4" r="1.48" fill="url(#gD)"/>
<circle cx="478.8" cy="75.2" r="1.48" fill="url(#gD)"/>
<circle cx="419.5" cy="55.5" r="1.48" fill="url(#gD)"/>
<circle cx="413.6" cy="71.4" r="1.48" fill="url(#gD)"/>
<circle cx="417.0" cy="81.7" r="1.48" fill="url(#gD)"/>
<circle cx="421.1" cy="99.0" r="1.48" fill="url(#gD)"/>
<circle cx="426.6" cy="95.5" r="1.48" fill="url(#gD)"/>
<circle cx="437.0" cy="97.9" r="1.48" fill="url(#gD)"/>
<circle cx="465.1" cy="109.0" r="1.48" fill="url(#gD)"/>
<circle cx="434.2" cy="112.1" r="1.48" fill="url(#gD)"/>
<circle cx="414.0" cy="116.2" r="1.48" fill="url(#gD)"/>
<circle cx="413.2" cy="122.4" r="1.48" fill="url(#gD)"/>
<circle cx="415.6" cy="123.3" r="1.48" fill="url(#gD)"/>
<circle cx="452.0" cy="137.6" r="1.48" fill="url(#gD)"/>
<circle cx="434.0" cy="142.2" r="1.48" fill="url(#gD)"/>
<circle cx="416.5" cy="154.7" r="1.48" fill="url(#gD)"/>
<circle cx="413.2" cy="162.0" r="1.48" fill="url(#gD)"/>
<circle cx="416.8" cy="171.5" r="1.48" fill="url(#gD)"/>
<circle cx="433.2" cy="173.8" r="1.48" fill="url(#gD)"/>
<circle cx="464.9" cy="173.8" r="1.48" fill="url(#gD)"/>
<circle cx="414.5" cy="178.0" r="1.48" fill="url(#gD)"/>
<circle cx="416.0" cy="179.1" r="1.48" fill="url(#gD)"/>
<circle cx="413.0" cy="194.4" r="1.48" fill="url(#gD)"/>
<circle cx="414.5" cy="196.3" r="1.48" fill="url(#gD)"/>
<circle cx="418.0" cy="200.1" r="1.48" fill="url(#gD)"/>
<circle cx="421.8" cy="199.0" r="1.48" fill="url(#gD)"/>
<circle cx="423.7" cy="193.2" r="1.48" fill="url(#gD)"/>
<circle cx="426.0" cy="191.9" r="1.48" fill="url(#gD)"/>
<circle cx="420.6" cy="208.1" r="1.48" fill="url(#gD)"/>
<circle cx="424.4" cy="209.6" r="1.48" fill="url(#gD)"/>
<circle cx="425.0" cy="211.5" r="1.48" fill="url(#gD)"/>
<circle cx="431.3" cy="209.6" r="1.48" fill="url(#gD)"/>
<circle cx="413.6" cy="214.8" r="1.48" fill="url(#gD)"/>
<circle cx="413.2" cy="204.1" r="1.48" fill="url(#gD)"/>
<circle cx="194.3" cy="42.2" r="1.35" fill="#2ba6dc"/>
<circle cx="194.3" cy="40.2" r="1.35" fill="#2ba6dc"/>
<circle cx="194.4" cy="38.2" r="1.35" fill="#2ba6dc"/>
<circle cx="194.4" cy="36.2" r="1.35" fill="#2ba6dc"/>
<circle cx="194.5" cy="32.3" r="1.35" fill="#2ba6dc"/>
<circle cx="194.6" cy="30.3" r="1.35" fill="#2ba6dc"/>
<circle cx="194.7" cy="26.3" r="1.35" fill="#2ba6dc"/>
<circle cx="196.5" cy="42.2" r="1.35" fill="#2ba6dc"/>
<circle cx="196.5" cy="40.3" r="1.35" fill="#2ba6dc"/>
<circle cx="196.5" cy="38.3" r="1.35" fill="#2ba6dc"/>
<circle cx="196.5" cy="36.4" r="1.35" fill="#2ba6dc"/>
<circle cx="196.5" cy="34.5" r="1.35" fill="#2ba6dc"/>
<circle cx="196.6" cy="26.7" r="1.35" fill="#2ba6dc"/>
<circle cx="198.6" cy="42.2" r="1.35" fill="#2ba6dc"/>
<circle cx="198.6" cy="40.2" r="1.35" fill="#2ba6dc"/>
<circle cx="198.6" cy="38.2" r="1.35" fill="#2ba6dc"/>
<circle cx="198.6" cy="34.2" r="1.35" fill="#2ba6dc"/>
<circle cx="198.6" cy="32.3" r="1.35" fill="#2ba6dc"/>
<circle cx="198.6" cy="30.3" r="1.35" fill="#2ba6dc"/>
<circle cx="198.6" cy="28.3" r="1.35" fill="#2ba6dc"/>
<circle cx="198.6" cy="26.3" r="1.35" fill="#2ba6dc"/>
<circle cx="201.1" cy="42.2" r="1.35" fill="#2ba6dc"/>
<circle cx="201.1" cy="40.3" r="1.35" fill="#2ba6dc"/>
<circle cx="201.1" cy="36.4" r="1.35" fill="#2ba6dc"/>
<circle cx="201.1" cy="32.5" r="1.35" fill="#2ba6dc"/>
<circle cx="201.1" cy="30.6" r="1.35" fill="#2ba6dc"/>
<circle cx="201.1" cy="28.6" r="1.35" fill="#2ba6dc"/>
<circle cx="201.2" cy="26.7" r="1.35" fill="#2ba6dc"/>
<circle cx="203.0" cy="42.2" r="1.35" fill="#2ba6dc"/>
<circle cx="203.0" cy="40.2" r="1.35" fill="#2ba6dc"/>
<circle cx="203.1" cy="38.2" r="1.35" fill="#2ba6dc"/>
<circle cx="203.1" cy="36.2" r="1.35" fill="#2ba6dc"/>
<circle cx="203.1" cy="34.2" r="1.35" fill="#2ba6dc"/>
<circle cx="203.1" cy="32.3" r="1.35" fill="#2ba6dc"/>
<circle cx="203.1" cy="30.3" r="1.35" fill="#2ba6dc"/>
<circle cx="203.1" cy="28.3" r="1.35" fill="#2ba6dc"/>
<circle cx="203.1" cy="26.3" r="1.35" fill="#2ba6dc"/>
<circle cx="205.3" cy="42.2" r="1.35" fill="#2ba6dc"/>
<circle cx="205.4" cy="40.3" r="1.35" fill="#2ba6dc"/>
<circle cx="205.4" cy="38.3" r="1.35" fill="#2ba6dc"/>
<circle cx="205.4" cy="36.4" r="1.35" fill="#2ba6dc"/>
<circle cx="205.4" cy="34.5" r="1.35" fill="#2ba6dc"/>
<circle cx="205.4" cy="32.5" r="1.35" fill="#2ba6dc"/>
<circle cx="205.5" cy="30.6" r="1.35" fill="#2ba6dc"/>
<circle cx="205.5" cy="28.6" r="1.35" fill="#2ba6dc"/>
<circle cx="205.5" cy="26.7" r="1.35" fill="#2ba6dc"/>
<circle cx="207.4" cy="42.2" r="1.35" fill="#2ba6dc"/>
<circle cx="207.5" cy="40.2" r="1.35" fill="#2ba6dc"/>
<circle cx="207.5" cy="38.2" r="1.35" fill="#2ba6dc"/>
<circle cx="207.5" cy="36.2" r="1.35" fill="#2ba6dc"/>
<circle cx="207.5" cy="34.2" r="1.35" fill="#2ba6dc"/>
<circle cx="207.6" cy="32.3" r="1.35" fill="#2ba6dc"/>
<circle cx="207.6" cy="30.3" r="1.35" fill="#2ba6dc"/>
<circle cx="207.6" cy="28.3" r="1.35" fill="#2ba6dc"/>
<circle cx="207.7" cy="26.3" r="1.35" fill="#2ba6dc"/>
<circle cx="209.8" cy="42.2" r="1.35" fill="#2ba6dc"/>
<circle cx="210.0" cy="40.1" r="1.35" fill="#2ba6dc"/>
<circle cx="210.2" cy="38.0" r="1.35" fill="#2ba6dc"/>
<circle cx="210.4" cy="35.9" r="1.35" fill="#2ba6dc"/>
<circle cx="210.6" cy="33.8" r="1.35" fill="#2ba6dc"/>
<circle cx="210.8" cy="31.7" r="1.35" fill="#2ba6dc"/>
<circle cx="211.0" cy="29.6" r="1.35" fill="#2ba6dc"/>
<circle cx="211.2" cy="27.5" r="1.35" fill="#2ba6dc"/>
<circle cx="211.6" cy="42.2" r="1.35" fill="#2ba6dc"/>
<circle cx="212.0" cy="40.0" r="1.35" fill="#2ba6dc"/>
<circle cx="212.3" cy="37.7" r="1.35" fill="#2ba6dc"/>
<circle cx="212.7" cy="35.5" r="1.35" fill="#2ba6dc"/>
<circle cx="213.1" cy="33.3" r="1.35" fill="#2ba6dc"/>
<circle cx="213.5" cy="31.1" r="1.35" fill="#2ba6dc"/>
<circle cx="213.8" cy="28.8" r="1.35" fill="#2ba6dc"/>
<circle cx="214.2" cy="26.6" r="1.35" fill="#2ba6dc"/>
<circle cx="216.0" cy="42.2" r="1.35" fill="#2ba6dc"/>
<circle cx="216.4" cy="40.2" r="1.35" fill="#2ba6dc"/>
<circle cx="216.8" cy="38.1" r="1.35" fill="#2ba6dc"/>
<circle cx="217.2" cy="36.1" r="1.35" fill="#2ba6dc"/>
<circle cx="217.6" cy="34.0" r="1.35" fill="#2ba6dc"/>
<circle cx="218.0" cy="32.0" r="1.35" fill="#2ba6dc"/>
<circle cx="220.4" cy="42.2" r="1.35" fill="#2ba6dc"/>
<circle cx="221.0" cy="39.9" r="1.35" fill="#2ba6dc"/>
<circle cx="221.7" cy="37.6" r="1.35" fill="#2ba6dc"/>
<circle cx="222.3" cy="35.3" r="1.35" fill="#2ba6dc"/>
<circle cx="222.9" cy="33.0" r="1.35" fill="#2ba6dc"/>
<circle cx="224.4" cy="42.2" r="1.35" fill="#2ba6dc"/>
<circle cx="224.8" cy="40.2" r="1.35" fill="#2ba6dc"/>
<circle cx="225.2" cy="38.1" r="1.35" fill="#2ba6dc"/>
<circle cx="225.6" cy="36.0" r="1.35" fill="#2ba6dc"/>
<circle cx="226.0" cy="34.0" r="1.35" fill="#2ba6dc"/>
<circle cx="228.8" cy="42.2" r="1.35" fill="#2ba6dc"/>
<circle cx="231.8" cy="42.2" r="1.35" fill="#2ba6dc"/>
<circle cx="234.8" cy="42.2" r="1.35" fill="#2ba6dc"/>
<circle cx="245.3" cy="42.2" r="1.35" fill="#2ba6dc"/>
<circle cx="245.7" cy="40.1" r="1.35" fill="#2ba6dc"/>
<circle cx="246.0" cy="38.0" r="1.35" fill="#2ba6dc"/>
<circle cx="249.5" cy="42.2" r="1.35" fill="#2ba6dc"/>
<circle cx="249.8" cy="40.3" r="1.35" fill="#2ba6dc"/>
<circle cx="250.1" cy="38.3" r="1.35" fill="#2ba6dc"/>
<circle cx="250.4" cy="36.4" r="1.35" fill="#2ba6dc"/>
<circle cx="250.7" cy="34.4" r="1.35" fill="#2ba6dc"/>
<circle cx="251.0" cy="32.5" r="1.35" fill="#2ba6dc"/>
<circle cx="305.0" cy="41.8" r="1.35" fill="#f09528"/>
<circle cx="305.0" cy="39.6" r="1.35" fill="#f09528"/>
<circle cx="304.9" cy="37.5" r="1.35" fill="#f09528"/>
<circle cx="304.9" cy="35.3" r="1.35" fill="#f09528"/>
<circle cx="304.8" cy="33.1" r="1.35" fill="#f09528"/>
<circle cx="304.8" cy="30.9" r="1.35" fill="#f09528"/>
<circle cx="304.8" cy="28.8" r="1.35" fill="#f09528"/>
<circle cx="304.7" cy="26.6" r="1.35" fill="#f09528"/>
<circle cx="306.9" cy="41.8" r="1.35" fill="#f09528"/>
<circle cx="306.9" cy="39.7" r="1.35" fill="#f09528"/>
<circle cx="307.0" cy="37.6" r="1.35" fill="#f09528"/>
<circle cx="307.0" cy="35.5" r="1.35" fill="#f09528"/>
<circle cx="307.0" cy="33.3" r="1.35" fill="#f09528"/>
<circle cx="307.0" cy="31.2" r="1.35" fill="#f09528"/>
<circle cx="307.0" cy="29.1" r="1.35" fill="#f09528"/>
<circle cx="307.1" cy="27.0" r="1.35" fill="#f09528"/>
<circle cx="309.4" cy="41.8" r="1.35" fill="#f09528"/>
<circle cx="309.4" cy="39.6" r="1.35" fill="#f09528"/>
<circle cx="309.4" cy="37.5" r="1.35" fill="#f09528"/>
<circle cx="309.4" cy="35.3" r="1.35" fill="#f09528"/>
<circle cx="309.3" cy="33.1" r="1.35" fill="#f09528"/>
<circle cx="309.3" cy="30.9" r="1.35" fill="#f09528"/>
<circle cx="309.3" cy="28.8" r="1.35" fill="#f09528"/>
<circle cx="309.3" cy="26.6" r="1.35" fill="#f09528"/>
<circle cx="311.7" cy="41.8" r="1.35" fill="#f09528"/>
<circle cx="311.7" cy="39.7" r="1.35" fill="#f09528"/>
<circle cx="311.6" cy="37.6" r="1.35" fill="#f09528"/>
<circle cx="311.6" cy="35.5" r="1.35" fill="#f09528"/>
<circle cx="311.6" cy="33.3" r="1.35" fill="#f09528"/>
<circle cx="311.6" cy="31.2" r="1.35" fill="#f09528"/>
<circle cx="311.5" cy="29.1" r="1.35" fill="#f09528"/>
<circle cx="311.5" cy="27.0" r="1.35" fill="#f09528"/>
<circle cx="313.7" cy="41.8" r="1.35" fill="#f09528"/>
<circle cx="313.7" cy="39.6" r="1.35" fill="#f09528"/>
<circle cx="313.7" cy="37.5" r="1.35" fill="#f09528"/>
<circle cx="313.7" cy="35.3" r="1.35" fill="#f09528"/>
<circle cx="313.8" cy="33.1" r="1.35" fill="#f09528"/>
<circle cx="313.8" cy="30.9" r="1.35" fill="#f09528"/>
<circle cx="313.8" cy="28.8" r="1.35" fill="#f09528"/>
<circle cx="313.8" cy="26.6" r="1.35" fill="#f09528"/>
<circle cx="315.9" cy="41.8" r="1.35" fill="#f09528"/>
<circle cx="315.9" cy="39.7" r="1.35" fill="#f09528"/>
<circle cx="315.9" cy="37.6" r="1.35" fill="#f09528"/>
<circle cx="316.0" cy="35.5" r="1.35" fill="#f09528"/>
<circle cx="316.0" cy="33.3" r="1.35" fill="#f09528"/>
<circle cx="316.0" cy="31.2" r="1.35" fill="#f09528"/>
<circle cx="316.0" cy="29.1" r="1.35" fill="#f09528"/>
<circle cx="316.1" cy="27.0" r="1.35" fill="#f09528"/>
<circle cx="318.2" cy="41.8" r="1.35" fill="#f09528"/>
<circle cx="318.2" cy="39.6" r="1.35" fill="#f09528"/>
<circle cx="318.2" cy="37.5" r="1.35" fill="#f09528"/>
<circle cx="318.3" cy="35.3" r="1.35" fill="#f09528"/>
<circle cx="318.3" cy="33.1" r="1.35" fill="#f09528"/>
<circle cx="318.3" cy="30.9" r="1.35" fill="#f09528"/>
<circle cx="318.3" cy="28.8" r="1.35" fill="#f09528"/>
<circle cx="318.4" cy="26.6" r="1.35" fill="#f09528"/>
<circle cx="320.2" cy="41.8" r="1.35" fill="#f09528"/>
<circle cx="320.2" cy="39.7" r="1.35" fill="#f09528"/>
<circle cx="320.2" cy="37.6" r="1.35" fill="#f09528"/>
<circle cx="320.2" cy="35.5" r="1.35" fill="#f09528"/>
<circle cx="320.1" cy="33.3" r="1.35" fill="#f09528"/>
<circle cx="320.1" cy="31.2" r="1.35" fill="#f09528"/>
<circle cx="320.1" cy="29.1" r="1.35" fill="#f09528"/>
<circle cx="320.1" cy="27.0" r="1.35" fill="#f09528"/>
<circle cx="322.5" cy="41.8" r="1.35" fill="#f09528"/>
<circle cx="322.5" cy="39.7" r="1.35" fill="#f09528"/>
<circle cx="324.7" cy="41.8" r="1.35" fill="#f09528"/>
<circle cx="324.7" cy="39.7" r="1.35" fill="#f09528"/>
<circle cx="327.9" cy="41.8" r="1.35" fill="#f09528"/>
<circle cx="328.6" cy="39.7" r="1.35" fill="#f09528"/>
<circle cx="329.3" cy="37.6" r="1.35" fill="#f09528"/>
<circle cx="330.0" cy="35.5" r="1.35" fill="#f09528"/>
<circle cx="330.8" cy="33.3" r="1.35" fill="#f09528"/>
<circle cx="331.5" cy="31.2" r="1.35" fill="#f09528"/>
<circle cx="332.2" cy="29.1" r="1.35" fill="#f09528"/>
<circle cx="332.9" cy="27.0" r="1.35" fill="#f09528"/>
<circle cx="336.4" cy="41.8" r="1.35" fill="#f09528"/>
<circle cx="336.6" cy="39.7" r="1.35" fill="#f09528"/>
<circle cx="336.8" cy="37.6" r="1.35" fill="#f09528"/>
<circle cx="337.0" cy="35.5" r="1.35" fill="#f09528"/>
<circle cx="337.2" cy="33.3" r="1.35" fill="#f09528"/>
<circle cx="337.4" cy="31.2" r="1.35" fill="#f09528"/>
<circle cx="337.6" cy="29.1" r="1.35" fill="#f09528"/>
<circle cx="337.8" cy="27.0" r="1.35" fill="#f09528"/>
<circle cx="338.6" cy="41.9" r="1.35" fill="#f09528"/>
<circle cx="339.7" cy="39.6" r="1.35" fill="#f09528"/>
<circle cx="340.7" cy="37.2" r="1.35" fill="#f09528"/>
<circle cx="341.8" cy="34.9" r="1.35" fill="#f09528"/>
<circle cx="413.0" cy="42.2" r="1.3" fill="url(#gD)"/>
<circle cx="415.2" cy="42.2" r="1.3" fill="url(#gD)"/>
<circle cx="417.2" cy="42.2" r="1.3" fill="url(#gD)"/>
<circle cx="413.2" cy="42.2" r="1.3" fill="url(#gD)"/>
<circle cx="413.3" cy="39.9" r="1.3" fill="url(#gD)"/>
<circle cx="413.3" cy="37.6" r="1.3" fill="url(#gD)"/>
<circle cx="413.4" cy="35.3" r="1.3" fill="url(#gD)"/>
<circle cx="414.6" cy="40.0" r="1.3" fill="url(#gD)"/>
<circle cx="415.6" cy="37.6" r="1.3" fill="url(#gD)"/>
<circle cx="416.6" cy="35.2" r="1.3" fill="url(#gD)"/>
<circle cx="415.3" cy="35.4" r="1.3" fill="url(#gD)"/>
<circle cx="418.7" cy="42.2" r="1.3" fill="url(#gD)"/>
<circle cx="419.0" cy="39.8" r="1.3" fill="url(#gD)"/>
<circle cx="419.2" cy="37.4" r="1.3" fill="url(#gD)"/>
<circle cx="419.5" cy="35.0" r="1.3" fill="url(#gD)"/>
<circle cx="419.8" cy="32.5" r="1.3" fill="url(#gD)"/>
<circle cx="420.0" cy="30.1" r="1.3" fill="url(#gD)"/>
<circle cx="420.3" cy="27.7" r="1.3" fill="url(#gD)"/>
<circle cx="422.6" cy="42.2" r="1.3" fill="url(#gD)"/>
<circle cx="422.7" cy="40.2" r="1.3" fill="url(#gD)"/>
<circle cx="422.7" cy="38.2" r="1.3" fill="url(#gD)"/>
<circle cx="422.8" cy="36.2" r="1.3" fill="url(#gD)"/>
<circle cx="425.7" cy="34.0" r="1.3" fill="url(#gD)"/>
<circle cx="424.6" cy="42.2" r="1.3" fill="url(#gD)"/>
<circle cx="424.7" cy="40.1" r="1.3" fill="url(#gD)"/>
<circle cx="424.8" cy="38.0" r="1.3" fill="url(#gD)"/>
<circle cx="430.2" cy="42.2" r="1.3" fill="url(#gD)"/>
<circle cx="430.2" cy="39.8" r="1.3" fill="url(#gD)"/>
<circle cx="430.2" cy="37.4" r="1.3" fill="url(#gD)"/>
<circle cx="430.2" cy="34.9" r="1.3" fill="url(#gD)"/>
<circle cx="430.2" cy="32.5" r="1.3" fill="url(#gD)"/>
<circle cx="430.2" cy="30.1" r="1.3" fill="url(#gD)"/>
<circle cx="432.8" cy="42.2" r="1.3" fill="url(#gD)"/>
<circle cx="432.8" cy="40.2" r="1.3" fill="url(#gD)"/>
<circle cx="432.8" cy="38.2" r="1.3" fill="url(#gD)"/>
<circle cx="432.8" cy="36.2" r="1.3" fill="url(#gD)"/>
<circle cx="435.4" cy="42.2" r="1.3" fill="url(#gD)"/>
<circle cx="435.6" cy="40.1" r="1.3" fill="url(#gD)"/>
<circle cx="435.7" cy="37.9" r="1.3" fill="url(#gD)"/>
<circle cx="435.9" cy="35.8" r="1.3" fill="url(#gD)"/>
<circle cx="437.7" cy="42.2" r="1.3" fill="url(#gD)"/>
<circle cx="437.7" cy="40.4" r="1.3" fill="url(#gD)"/>
<circle cx="437.7" cy="38.5" r="1.3" fill="url(#gD)"/>
<circle cx="440.0" cy="42.2" r="1.3" fill="url(#gD)"/>
<circle cx="440.1" cy="40.1" r="1.3" fill="url(#gD)"/>
<circle cx="440.2" cy="37.9" r="1.3" fill="url(#gD)"/>
<circle cx="440.3" cy="35.8" r="1.3" fill="url(#gD)"/>
<circle cx="442.0" cy="42.2" r="1.3" fill="url(#gD)"/>
<circle cx="442.0" cy="40.4" r="1.3" fill="url(#gD)"/>
<circle cx="442.0" cy="38.5" r="1.3" fill="url(#gD)"/>
<circle cx="444.6" cy="42.2" r="1.3" fill="url(#gD)"/>
<circle cx="446.0" cy="42.2" r="1.3" fill="url(#gD)"/>
</g>
<g stroke="#111" stroke-width="1.3" stroke-linecap="butt">

<line x1="47" y1="147.6" x2="122.9" y2="102.3"/>
<line x1="195.2" y1="139.5" x2="265.5" y2="27.8"/>
<line x1="304" y1="120" x2="383.6" y2="28"/>
<line x1="413" y1="110.3" x2="498" y2="33.8"/>

</g>
<g font-size="7.5" fill="#333" letter-spacing="0.3">
<text x="47.10" y="227.0" text-anchor="middle">0</text>
<text x="70.35" y="227.0" text-anchor="middle">200</text>
<text x="93.60" y="227.0" text-anchor="middle">400</text>
<text x="116.85" y="227.0" text-anchor="middle">600</text>
<text x="140.10" y="227.0" text-anchor="middle">800</text>
<text x="195.00" y="227.0" text-anchor="middle">0</text>
<text x="218.25" y="227.0" text-anchor="middle">200</text>
<text x="241.50" y="227.0" text-anchor="middle">400</text>
<text x="264.75" y="227.0" text-anchor="middle">600</text>
<text x="288.00" y="227.0" text-anchor="middle">800</text>
<text x="304.00" y="227.0" text-anchor="middle">0</text>
<text x="327.25" y="227.0" text-anchor="middle">200</text>
<text x="350.50" y="227.0" text-anchor="middle">400</text>
<text x="373.75" y="227.0" text-anchor="middle">600</text>
<text x="397.00" y="227.0" text-anchor="middle">800</text>
<text x="413.30" y="227.0" text-anchor="middle">0</text>
<text x="444.30" y="227.0" text-anchor="middle">200</text>
<text x="475.30" y="227.0" text-anchor="middle">400</text>
<text x="506.30" y="227.0" text-anchor="middle">600</text>
<text x="40.8" y="163.50" text-anchor="end">2×10<tspan dy="-2.6" font-size="4.6">6</tspan></text>
<text x="40.8" y="110.20" text-anchor="end">4×10<tspan dy="-2.6" font-size="4.6">6</tspan></text>
<text x="40.8" y="56.90" text-anchor="end">6×10<tspan dy="-2.6" font-size="4.6">6</tspan></text>
<text x="40" y="216.80" text-anchor="end">0</text>
<text x="189" y="216.80" text-anchor="end">0</text>
<text x="189" y="182.35" text-anchor="end">5000</text>
<text x="189" y="147.90" text-anchor="end">10000</text>
<text x="189" y="113.45" text-anchor="end">15000</text>
<text x="189" y="79.00" text-anchor="end">20000</text>
<text x="189" y="44.75" text-anchor="end">24999</text>
<text x="189" y="37.86" text-anchor="end">&gt;24999</text>
<text x="82.5" y="192" font-size="7.7" letter-spacing="0.1"><tspan font-style="italic">r</tspan> <tspan font-weight="bold">=</tspan> 0.241</text>
<text x="82.5" y="203.3" font-size="7.7" letter-spacing="0.1"><tspan font-style="italic">P</tspan> <tspan font-weight="bold">=</tspan> .0030</text>
<text x="236.9" y="192" font-size="7.7" letter-spacing="0.1"><tspan font-style="italic">r</tspan> <tspan font-weight="bold">=</tspan> 0.320</text>
<text x="236.9" y="203.3" font-size="7.7" letter-spacing="0.1"><tspan font-style="italic">P</tspan><tspan dx="0.2" fill="#777">&lt;</tspan> .0001</text>
<text x="346" y="192" font-size="7.7" letter-spacing="0.1"><tspan font-style="italic">r</tspan> <tspan font-weight="bold">=</tspan> 0.278</text>
<text x="346" y="203.3" font-size="7.7" letter-spacing="0.1"><tspan font-style="italic">P</tspan> <tspan font-weight="bold">=</tspan> .0004</text>
<text x="455.1" y="192" font-size="7.7" letter-spacing="0.1"><tspan font-style="italic">r</tspan> <tspan font-weight="bold">=</tspan> 0.267</text>
<text x="455.1" y="203.3" font-size="7.7" letter-spacing="0.1"><tspan font-style="italic">P</tspan> <tspan font-weight="bold">=</tspan> .020</text>
</g>
<g font-size="8.2" fill="#1a1a1a" stroke="#1a1a1a" stroke-width="0.22">
<text transform="translate(14.6,120.9) rotate(-90)" text-anchor="middle" textLength="81" lengthAdjust="spacingAndGlyphs">Spike antibodies (light units)</text>
<text transform="translate(160.9,118.4) rotate(-90)" text-anchor="middle" textLength="68.5" lengthAdjust="spacingAndGlyphs">Spike antibodies (U/mL)</text>
</g>
<g font-size="8.6" fill="#1a1a1a" stroke="#1a1a1a" stroke-width="0.2">
<text x="66" y="242.9" textLength="55.2" lengthAdjust="spacingAndGlyphs">Normal B-cells/mm</text>
<text x="121.3" y="239.6" font-size="5">3</text>
<text x="323" y="243.1" textLength="55.5" lengthAdjust="spacingAndGlyphs">Normal B-cells/mm</text>
<text x="378.6" y="239.8" font-size="5">3</text>
</g>
<g font-size="11" font-weight="bold" fill="#000">
<text x="6.5" y="16">A</text>
<text x="153.3" y="16">B</text>
<text x="301.5" y="16">C</text>
<text x="410.6" y="16">D</text>
</g>
<rect x="0.65" y="0.65" width="518.65" height="250.65" fill="none" stroke="#666" stroke-width="1.3"/>
</svg>
</body></html>
